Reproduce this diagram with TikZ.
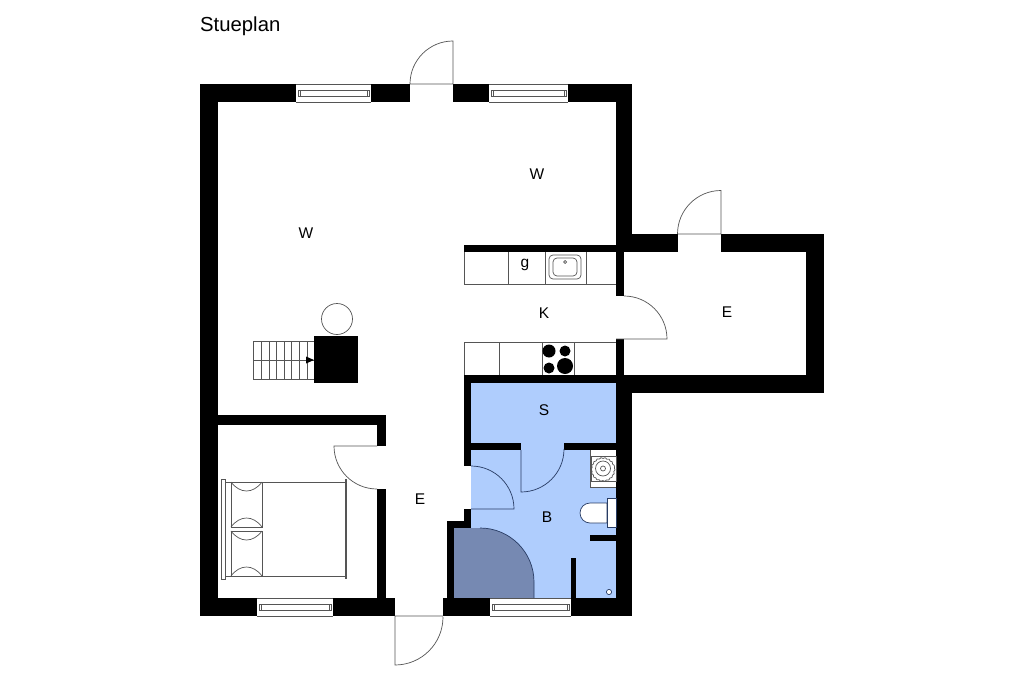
\documentclass[tikz,border=0pt]{standalone}
\usepackage{xcolor}
\usepackage{fontspec}
\setmainfont{Liberation Sans}
\usetikzlibrary{decorations.pathmorphing}
\definecolor{roomblue}{RGB}{175,205,253}
\definecolor{showerblue}{RGB}{118,137,178}
\definecolor{showerline}{RGB}{40,60,100}
\definecolor{linegray}{RGB}{85,85,85}
\tikzset{
    wall/.style={fill=black},
    thinline/.style={draw=linegray, line width=0.7pt},
    fixture/.style={draw=linegray, line width=0.7pt, fill=white},
    bluedoor/.style={draw=showerline, line width=0.7pt},
    roomlabel/.style={font=\fontsize{15.5}{17}\selectfont, inner sep=0pt}
}

\begin{document}
\begin{tikzpicture}[x=1pt, y=-1pt]
    \useasboundingbox (0,0) rectangle (1024,682);
    \fill[white] (0,0) rectangle (1024,682);

    % blue rooms
    \fill[roomblue] (471,383) rectangle (616,598);
    \fill[roomblue] (454,527) rectangle (471,598);
    \fill[showerblue] (454,528) -- (480,528) arc[start angle=270, end angle=360, radius=54] -- (534,598) -- (454,598) -- cycle;
    \draw[bluedoor] (480,528) arc[start angle=270, end angle=360, radius=54] -- (534,598);

    % outer walls
    \fill[wall] (200,84) rectangle (410,102);
    \fill[wall] (453,84) rectangle (632,102);
    \fill[wall] (200,84) rectangle (218,616);
    \fill[wall] (200,598) rectangle (395,616);
    \fill[wall] (443,598) rectangle (632,616);
    \fill[wall] (616,84) rectangle (632,252);
    \fill[wall] (616,252) rectangle (624,296);
    \fill[wall] (616,339) rectangle (624,375);
    \fill[wall] (616,375) rectangle (632,616);
    \fill[wall] (616,234) rectangle (678,252);
    \fill[wall] (721,234) rectangle (824,252);
    \fill[wall] (806,234) rectangle (824,393);
    \fill[wall] (616,375) rectangle (824,393);

    % inner walls
    \fill[wall] (218,415) rectangle (386,425);
    \fill[wall] (377,415) rectangle (386,446);
    \fill[wall] (377,489) rectangle (386,598);
    \fill[wall] (464,245) rectangle (616,252);
    \fill[wall] (464,375) rectangle (616,383);
    \fill[wall] (464,375) rectangle (471,466);
    \fill[wall] (464,509) rectangle (471,527);
    \fill[wall] (447,521) rectangle (471,528);
    \fill[wall] (447,521) rectangle (454,598);
    \fill[wall] (471,443) rectangle (521,450);
    \fill[wall] (564,443) rectangle (616,450);
    \fill[wall] (590,535) rectangle (616,541);
    \fill[wall] (571,558) rectangle (576,598);

    % windows
    \foreach \xa/\xb/\ya in {296/371/84, 489/568/84, 257/333/598, 490/571/598} {
        \fill[white] (\xa,\ya) rectangle (\xb,\ya+18);
        \draw[thinline] (\xa,\ya) -- (\xb,\ya);
        \draw[thinline] (\xa,\ya+18) -- (\xb,\ya+18);
        \draw[thinline] (\xa+2,\ya+6.5) rectangle (\xb-2,\ya+12.5);
        \draw[thinline] (\xa+4,\ya+6.5) -- (\xa+4,\ya+12.5);
        \draw[thinline] (\xb-4,\ya+6.5) -- (\xb-4,\ya+12.5);
    }

    % doors
    \draw[thinline] (410,84) -- (453,84) -- (453,41) arc[start angle=270, end angle=180, radius=43];
    \draw[thinline] (678,234) -- (721,234) -- (721,190.5) arc[start angle=270, end angle=180, radius=43.5];
    \draw[thinline] (616,339) -- (667,339) arc[start angle=0, end angle=-90, radius=43];
    \draw[thinline] (377,446) -- (334,446) arc[start angle=180, end angle=90, radius=43];
    \draw[thinline] (443,616) -- (395,616) -- (395,665) arc[start angle=90, end angle=0, radius=48];
    \draw[bluedoor] (521,450) -- (521,492) arc[start angle=90, end angle=0, radius=43];
    \draw[bluedoor] (471,466) arc[start angle=270, end angle=360, radius=43] -- (471,509);

    % kitchen
    \draw[thinline] (616,284) -- (464,284) -- (464,252);
    \draw[thinline] (508,252) -- (508,284);
    \draw[thinline] (545,252) -- (545,284);
    \draw[thinline] (586,252) -- (586,284);
    \draw[thinline, rounded corners=4pt] (549,255) rectangle (581,279);
    \draw[thinline, rounded corners=4pt] (553,258) rectangle (577,276);
    \draw[thinline] (565,262) circle[radius=1.5];
    \draw[thinline] (616,342) -- (464,342) -- (464,375);
    \draw[thinline] (499,342) -- (499,375);
    \draw[thinline] (542,342) -- (542,375);
    \draw[thinline] (574,342) -- (574,375);
    \fill (549,351) circle[radius=6.5];
    \fill (565,351) circle[radius=5.5];
    \fill (549,368) circle[radius=5.5];
    \fill (565,366) circle[radius=8];

    % stairs
    \draw[thinline] (314,341) -- (253,341) -- (253,379) -- (314,379);
    \draw[thinline] (253,360) -- (314,360);
    \foreach \stepx in {261,269,276,284,291,299,307} {
        \draw[thinline] (\stepx,341) -- (\stepx,379);
    }
    \fill (306,356.5) -- (314,360) -- (306,363.5) -- cycle;
    \fill (314,336) rectangle (358,383);
    \draw[thinline] (337,319) circle[radius=15.5];

    % bed
    \draw[fixture] (221,479) rectangle (225,579);
    \draw[thinline] (225,482) -- (346,482);
    \draw[thinline] (225,576) -- (346,576);
    \draw[draw=linegray, line width=1.6pt] (346,479) -- (346,579);
    \draw[thinline] (231,482) rectangle (262,527);
    \draw[thinline] (231,531) rectangle (262,576);
    \foreach \ya in {482,531} {
        \draw[thinline] (231,\ya) .. controls (240,\ya+12) and (253,\ya+12) .. (262,\ya);
        \draw[thinline] (231,\ya+45) .. controls (240,\ya+33) and (253,\ya+33) .. (262,\ya+45);
    }

    % bathroom fixtures
    \fill[white] (590,450) rectangle (616,487);
    \draw[thinline] (616,487) -- (590,487) -- (590,450);
    \draw[thinline] (591,456) -- (616,456) -- (616,481) -- (591,481) -- cycle;
    \draw[thinline, decorate, decoration={snake, segment length=4pt, amplitude=0.5pt}] (603,468.5) circle[radius=11.5];
    \draw[thinline] (603,468.5) circle[radius=7.5];
    \draw[thinline] (603,468.5) circle[radius=2.5];
    \draw[fixture, draw=showerline] (607,503) -- (590,503) arc[start angle=270, end angle=90, radius=10] -- (607,523) -- cycle;
    \draw[fixture, draw=showerline] (607,498) rectangle (616,527);
    \draw[fixture, draw=showerline] (609,592) circle[radius=2.6];

    % labels
    \node[anchor=west, inner sep=0pt, font=\fontsize{20.3}{22}\selectfont] (title) at (200,26.5) {Stueplan};
    \node[roomlabel] (livinga) at (306,233.5) {W};
    \node[roomlabel] (livingb) at (537,174.5) {W};
    \node[roomlabel] (kitchen) at (544,313.5) {K};
    \node[roomlabel] (annex) at (727,312.5) {E};
    \node[roomlabel] (scullery) at (544,410.5) {S};
    \node[roomlabel] (bath) at (547,517.5) {B};
    \node[roomlabel] (hall) at (420,499.5) {E};
    \node[roomlabel] (fridge) at (525,265) {g};
\end{tikzpicture}
\end{document}
